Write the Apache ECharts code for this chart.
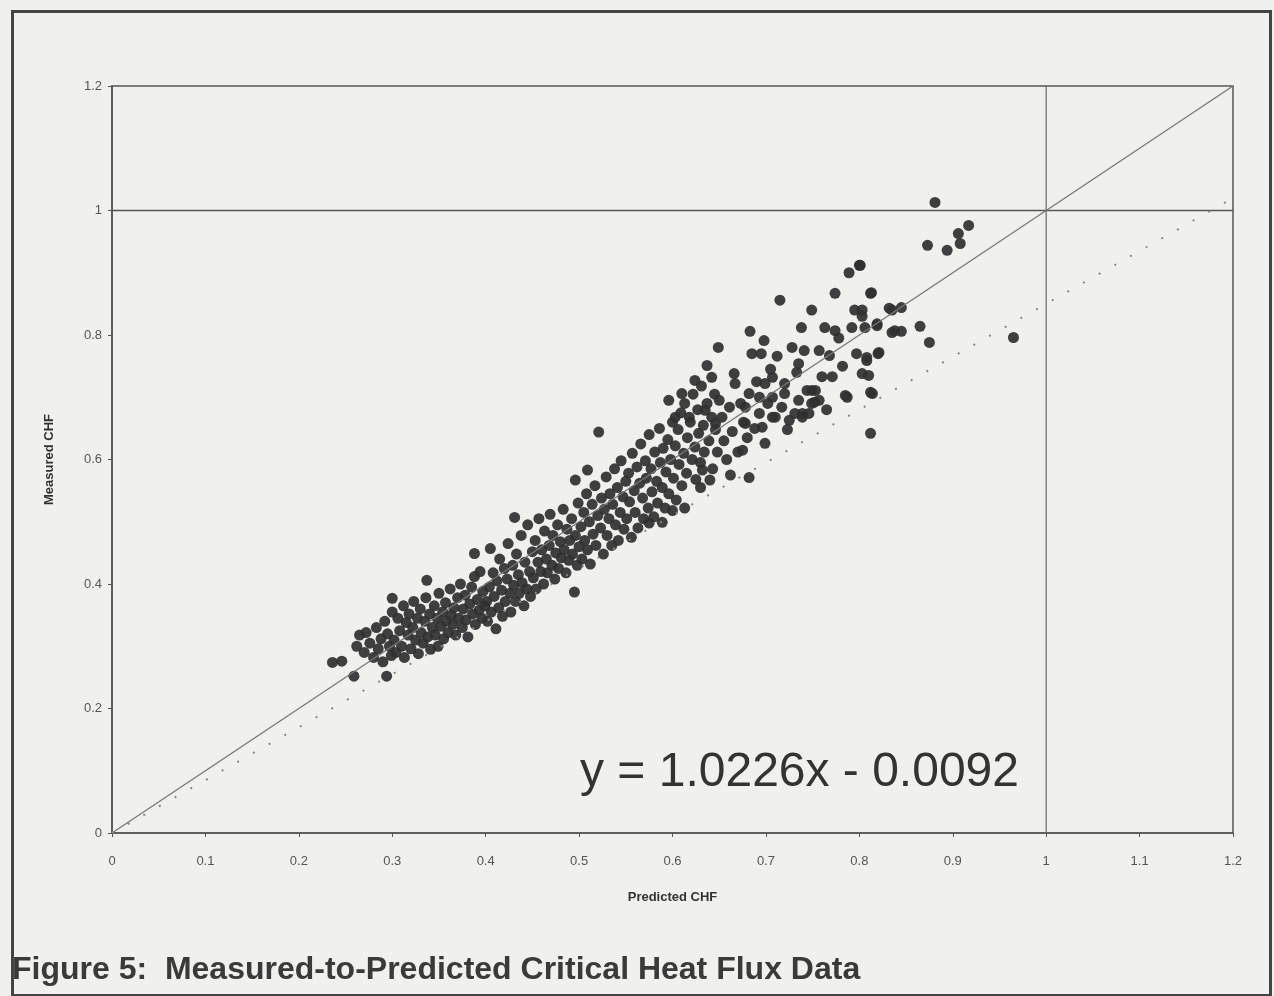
<!DOCTYPE html>
<html>
<head>
<meta charset="utf-8">
<script src="https://cdn.jsdelivr.net/npm/echarts@6/dist/echarts.min.js"></script>
<style>
  html, body { margin: 0; padding: 0; background: #f0f0ed; }
  #main { width: 1274px; height: 996px; }
</style>
</head>
<body>
<div id="main"></div>
<script>
// axis ticks
var xTicks = [0, 0.1, 0.2, 0.3, 0.4, 0.5, 0.6, 0.7, 0.8, 0.9, 1, 1.1, 1.2];
var yTicks = [0, 0.2, 0.4, 0.6, 0.8, 1, 1.2];

// reference lines
var unityLine = [[0, 0], [1.2, 1.2]];
var trendLine = [[0, 0], [1.2, 1.02]];   // dotted line
var limitX = [[1, 0], [1, 1.2]];
var limitY = [[0, 1], [1.2, 1]];
var fitText = 'y = 1.0226x - 0.0092';

// measured vs predicted CHF
var points = [
  [0.236,0.274],[0.246,0.276],[0.259,0.252],[0.262,0.300],[0.265,0.318],[0.270,0.290],[0.272,0.322],[0.276,0.305],
  [0.280,0.282],[0.283,0.330],[0.285,0.296],[0.288,0.312],[0.290,0.275],[0.292,0.340],[0.294,0.252],[0.295,0.320],
  [0.297,0.300],[0.299,0.285],[0.300,0.355],[0.300,0.377],[0.302,0.310],[0.304,0.290],[0.306,0.345],[0.308,0.325],
  [0.310,0.300],[0.312,0.365],[0.313,0.282],[0.315,0.338],[0.317,0.318],[0.318,0.352],[0.320,0.296],[0.322,0.330],
  [0.323,0.372],[0.325,0.310],[0.327,0.345],[0.328,0.288],[0.330,0.360],[0.331,0.322],[0.333,0.305],[0.335,0.340],
  [0.336,0.378],[0.337,0.406],[0.338,0.315],[0.340,0.352],[0.341,0.295],[0.343,0.330],[0.345,0.365],[0.346,0.318],
  [0.348,0.345],[0.349,0.300],[0.350,0.385],[0.352,0.332],[0.354,0.355],[0.355,0.312],[0.357,0.370],[0.358,0.340],
  [0.360,0.322],[0.362,0.392],[0.363,0.350],[0.365,0.335],[0.366,0.362],[0.368,0.318],[0.370,0.378],[0.371,0.345],
  [0.373,0.400],[0.375,0.330],[0.376,0.360],[0.378,0.382],[0.379,0.342],[0.381,0.315],[0.383,0.368],[0.385,0.395],
  [0.386,0.352],[0.388,0.449],[0.388,0.412],[0.389,0.335],[0.391,0.375],[0.393,0.358],[0.394,0.420],[0.396,0.345],
  [0.397,0.388],[0.399,0.365],[0.401,0.372],[0.402,0.340],[0.404,0.395],[0.405,0.457],[0.406,0.355],[0.408,0.418],
  [0.409,0.380],[0.411,0.328],[0.412,0.405],[0.414,0.362],[0.415,0.440],[0.417,0.390],[0.418,0.348],[0.420,0.425],
  [0.421,0.372],[0.423,0.408],[0.424,0.465],[0.426,0.385],[0.427,0.355],[0.429,0.430],[0.430,0.398],[0.431,0.507],
  [0.432,0.372],[0.433,0.448],[0.435,0.415],[0.436,0.385],[0.438,0.478],[0.439,0.402],[0.441,0.365],[0.442,0.435],
  [0.444,0.392],[0.445,0.495],[0.447,0.420],[0.448,0.380],[0.450,0.452],[0.451,0.410],[0.453,0.470],[0.454,0.392],
  [0.456,0.435],[0.457,0.505],[0.459,0.420],[0.460,0.455],[0.462,0.400],[0.463,0.485],[0.465,0.440],[0.466,0.418],
  [0.468,0.462],[0.469,0.512],[0.471,0.430],[0.472,0.478],[0.474,0.408],[0.475,0.450],[0.477,0.495],[0.478,0.425],
  [0.480,0.468],[0.481,0.442],[0.483,0.520],[0.484,0.455],[0.486,0.418],[0.487,0.488],[0.489,0.438],[0.490,0.470],
  [0.492,0.505],[0.493,0.448],[0.495,0.387],[0.496,0.478],[0.496,0.567],[0.498,0.430],[0.499,0.530],[0.500,0.460],
  [0.502,0.492],[0.503,0.440],[0.505,0.515],[0.506,0.470],[0.508,0.545],[0.509,0.583],[0.509,0.455],[0.511,0.500],
  [0.512,0.432],[0.514,0.528],[0.515,0.480],[0.517,0.558],[0.518,0.462],[0.520,0.510],[0.521,0.644],[0.523,0.490],
  [0.524,0.538],[0.526,0.448],[0.527,0.520],[0.529,0.572],[0.530,0.478],[0.532,0.505],[0.533,0.545],[0.535,0.462],
  [0.536,0.528],[0.538,0.585],[0.539,0.495],[0.541,0.555],[0.542,0.470],[0.544,0.515],[0.545,0.598],[0.547,0.540],
  [0.548,0.488],[0.550,0.565],[0.551,0.505],[0.553,0.578],[0.554,0.532],[0.556,0.475],[0.557,0.610],[0.559,0.550],
  [0.560,0.515],[0.562,0.588],[0.563,0.490],[0.565,0.562],[0.566,0.625],[0.568,0.538],[0.569,0.505],[0.571,0.598],
  [0.572,0.570],[0.574,0.522],[0.575,0.640],[0.575,0.498],[0.577,0.585],[0.578,0.548],[0.580,0.508],[0.581,0.612],
  [0.583,0.565],[0.584,0.530],[0.586,0.650],[0.587,0.595],[0.589,0.555],[0.589,0.499],[0.590,0.618],[0.592,0.522],
  [0.593,0.580],[0.595,0.632],[0.596,0.545],[0.596,0.695],[0.598,0.600],[0.600,0.660],[0.600,0.518],[0.601,0.570],
  [0.603,0.622],[0.603,0.668],[0.604,0.535],[0.606,0.648],[0.607,0.592],[0.609,0.675],[0.610,0.558],[0.610,0.706],
  [0.612,0.610],[0.613,0.522],[0.613,0.690],[0.615,0.578],[0.616,0.635],[0.618,0.668],[0.619,0.660],[0.621,0.600],
  [0.622,0.705],[0.624,0.620],[0.624,0.727],[0.625,0.568],[0.627,0.680],[0.628,0.642],[0.630,0.595],[0.630,0.555],
  [0.631,0.718],[0.632,0.583],[0.633,0.655],[0.634,0.612],[0.635,0.679],[0.637,0.751],[0.637,0.690],[0.639,0.630],
  [0.640,0.567],[0.642,0.732],[0.642,0.668],[0.643,0.585],[0.645,0.705],[0.646,0.648],[0.646,0.658],[0.648,0.612],
  [0.649,0.780],[0.650,0.695],[0.653,0.668],[0.655,0.630],[0.658,0.600],[0.661,0.684],[0.662,0.575],[0.664,0.645],
  [0.666,0.738],[0.667,0.722],[0.670,0.612],[0.673,0.690],[0.675,0.615],[0.676,0.660],[0.678,0.684],[0.678,0.658],
  [0.680,0.635],[0.682,0.706],[0.682,0.571],[0.683,0.806],[0.685,0.770],[0.688,0.650],[0.690,0.725],[0.693,0.700],
  [0.693,0.674],[0.695,0.770],[0.696,0.652],[0.698,0.791],[0.699,0.722],[0.699,0.626],[0.702,0.690],[0.705,0.745],
  [0.707,0.732],[0.707,0.700],[0.707,0.668],[0.710,0.668],[0.712,0.766],[0.715,0.856],[0.717,0.684],[0.720,0.722],
  [0.720,0.706],[0.723,0.648],[0.725,0.663],[0.728,0.780],[0.731,0.674],[0.733,0.740],[0.735,0.754],[0.735,0.695],
  [0.738,0.812],[0.739,0.668],[0.739,0.674],[0.741,0.775],[0.744,0.711],[0.746,0.674],[0.749,0.840],[0.749,0.711],
  [0.749,0.690],[0.752,0.692],[0.753,0.711],[0.757,0.775],[0.757,0.695],[0.760,0.733],[0.763,0.812],[0.765,0.680],
  [0.768,0.767],[0.771,0.733],[0.774,0.807],[0.774,0.867],[0.778,0.795],[0.782,0.750],[0.785,0.703],[0.787,0.700],
  [0.789,0.900],[0.792,0.812],[0.795,0.840],[0.797,0.770],[0.800,0.912],[0.801,0.912],[0.803,0.830],[0.803,0.840],
  [0.803,0.738],[0.806,0.812],[0.808,0.759],[0.808,0.764],[0.810,0.735],[0.812,0.867],[0.812,0.708],[0.812,0.642],
  [0.813,0.868],[0.814,0.706],[0.819,0.818],[0.819,0.815],[0.820,0.770],[0.821,0.772],[0.832,0.843],[0.835,0.840],
  [0.835,0.804],[0.838,0.807],[0.845,0.844],[0.845,0.806],[0.865,0.814],[0.873,0.944],[0.875,0.788],[0.881,1.013],
  [0.894,0.936],[0.906,0.963],[0.908,0.947],[0.917,0.976],[0.965,0.796]
];

var myChart = echarts.init(document.getElementById('main'));

var axisCol = '#555';
var fontFam = '"Liberation Sans", Arial, sans-serif';

var option = {
  backgroundColor: '#f0f0ed',
  animation: false,
  grid: {
    left: 112,
    top: 86,
    right: 41,
    bottom: 163,
    show: true,
    borderColor: axisCol,
    borderWidth: 1.5,
    backgroundColor: 'transparent'
  },
  xAxis: {
    type: 'value',
    min: 0,
    max: 1.2,
    interval: 0.1,
    name: 'Predicted CHF',
    nameLocation: 'middle',
    nameGap: 58,
    nameTextStyle: { fontFamily: fontFam, fontWeight: 'bold', fontSize: 13, color: '#333' },
    axisLine: { lineStyle: { color: axisCol, width: 1.5 } },
    axisTick: { show: true, length: 4, lineStyle: { color: axisCol } },
    axisLabel: {
      margin: 22, color: '#555', fontSize: 13, fontFamily: fontFam,
      formatter: function (v) { return String(Math.round(v * 10) / 10); }
    },
    splitLine: { show: false }
  },
  yAxis: {
    type: 'value',
    min: 0,
    max: 1.2,
    interval: 0.2,
    name: 'Measured CHF',
    nameLocation: 'middle',
    nameGap: 56,
    nameTextStyle: { fontFamily: fontFam, fontWeight: 'bold', fontSize: 13, color: '#333' },
    axisLine: { lineStyle: { color: axisCol, width: 1.5 } },
    axisTick: { show: true, length: 4, lineStyle: { color: axisCol } },
    axisLabel: {
      margin: 10, color: '#555', fontSize: 13, fontFamily: fontFam,
      formatter: function (v) { return String(Math.round(v * 10) / 10); }
    },
    splitLine: { show: false }
  },
  series: [
    {
      type: 'line', data: limitY, symbol: 'none', silent: true,
      lineStyle: { color: '#555', width: 1.5 }
    },
    {
      type: 'line', data: limitX, symbol: 'none', silent: true,
      lineStyle: { color: '#666', width: 1.2 }
    },
    {
      type: 'line', data: unityLine, symbol: 'none', silent: true,
      lineStyle: { color: '#777', width: 1.3 }
    },
    {
      type: 'line', data: trendLine, symbol: 'none', silent: true,
      lineStyle: { color: '#888', width: 2, type: [2, 16] }
    },
    {
      type: 'scatter',
      data: points,
      symbol: 'circle',
      symbolSize: 11,
      itemStyle: { color: '#303030', opacity: 0.92 }
    }
  ],
  graphic: [
    {
      type: 'rect',
      left: 10, top: 9,
      shape: { width: 1258, height: 984 },
      style: { fill: 'none', stroke: '#444', lineWidth: 3 },
      silent: true
    },
    {
      type: 'text',
      left: 580, top: 749,
      style: { text: fitText, font: '48px "Liberation Sans", Arial, sans-serif', fill: '#333' }
    },
    {
      type: 'text',
      left: 12, top: 954,
      style: {
        text: 'Figure 5:  Measured-to-Predicted Critical Heat Flux Data',
        font: 'bold 32px "Liberation Sans", Arial, sans-serif', fill: '#3a3a3a'
      }
    }
  ]
};

myChart.setOption(option);
</script>
</body>
</html>
